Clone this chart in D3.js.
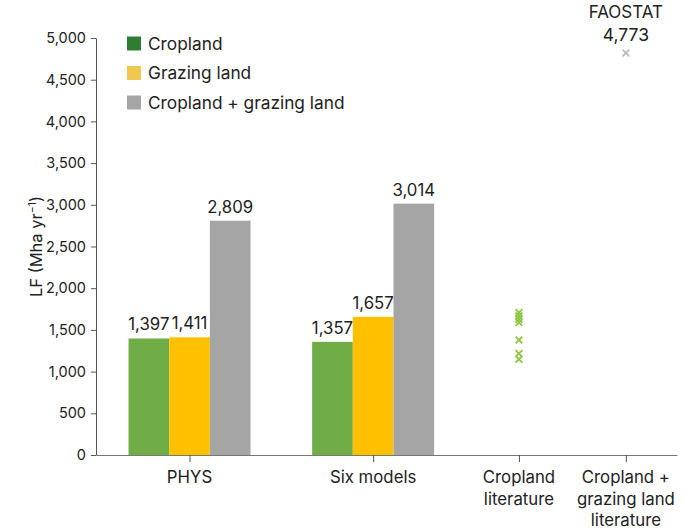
<!DOCTYPE html>
<html><head><meta charset="utf-8">
<script src="https://cdn.jsdelivr.net/npm/d3@7"></script>
<style>
html,body{margin:0;padding:0;background:#fff;}
text{font-family:Inter,"Noto Sans",sans-serif;fill:#222;}
</style></head>
<body><svg id="c" width="685" height="531"></svg>
<script>
// ---- data ----
const categories = ["PHYS", "Six models", "Cropland literature", "Cropland + grazing land literature"];
const categoryLines = [["PHYS"], ["Six models"], ["Cropland", "literature"], ["Cropland +", "grazing land", "literature"]];
const categoryPos = [16.1, 47.7, 72.8, 91.2]; // position along x axis (% of axis length)
const seriesNames = ["Cropland", "Grazing land", "Cropland + grazing land"];
const barCategories = ["PHYS", "Six models"];
const cropland = [1397, 1357];
const grazing = [1411, 1657];
const combined = [2809, 3014];
const croplandLiterature = [1660, 1620, 1580, 1540, 1330, 1170, 1100];
const faostat = 4773;
const yTicks = [0, 500, 1000, 1500, 2000, 2500, 3000, 3500, 4000, 4500, 5000];

const barColors = ["#70AD47", "#FFC000", "#A5A5A5"];
const legendColors = ["#2E7D32", "#F0C850", "#A5A5A5"];

// ---- layout ----
const svg = d3.select("#c");
const L = 96, R = 677, T = 38, B = 455;
const x = d3.scaleLinear().domain([0, 100]).range([L, R]);
const y = d3.scaleLinear().domain([0, 5000]).range([B, T]);
const barW = x(7) - x(0);
const fmt = d3.format(",");

// y axis
const yAxis = svg.append("g").attr("transform", `translate(${L},0)`)
  .call(d3.axisLeft(y).tickValues(yTicks).tickFormat(fmt).tickSize(5).tickSizeOuter(0));
yAxis.select(".domain").attr("stroke", "#555");
yAxis.selectAll(".tick line").attr("stroke", "#555");
yAxis.selectAll(".tick text").attr("font-size", 14.5).attr("fill", "#222")
  .attr("font-family", "Inter, 'Noto Sans', sans-serif").attr("x", -10);

// x axis
const xAxis = svg.append("g").attr("transform", `translate(0,${B})`)
  .call(d3.axisBottom(x).tickValues(categoryPos).tickFormat("").tickSize(7).tickSizeOuter(0));
xAxis.select(".domain").attr("stroke", "#777");
xAxis.selectAll(".tick line").attr("stroke", "#555");

// x labels
categoryLines.forEach((lines, i) => {
  const t = svg.append("text").attr("x", x(categoryPos[i])).attr("y", 483)
    .attr("text-anchor", "middle").attr("font-size", 16.8);
  lines.forEach((ln, j) => t.append("tspan").attr("x", x(categoryPos[i])).attr("dy", j === 0 ? 0 : 21.5).text(ln));
});

// y label
svg.append("text").attr("transform", `translate(42,${(T + B) / 2}) rotate(-90)`)
  .attr("text-anchor", "middle").attr("font-size", 16.5)
  .html('LF (Mha yr<tspan dy="-6" font-size="10.5">−1</tspan><tspan dy="6">)</tspan>');

// bars
const seriesValues = [cropland, grazing, combined];
barCategories.forEach((cat, ci) => {
  const cx = x(categoryPos[categories.indexOf(cat)]);
  seriesValues.forEach((vals, si) => {
    const x0 = cx + (si - 1.5) * barW;
    svg.append("rect").attr("x", x0).attr("y", y(vals[ci])).attr("width", barW)
      .attr("height", y(0) - y(vals[ci])).attr("fill", barColors[si]);
  });
  seriesValues.forEach((vals, si) => {
    const x0 = cx + (si - 1.5) * barW;
    svg.append("text").attr("x", x0 + barW / 2).attr("y", y(vals[ci]) - 8)
      .attr("text-anchor", "middle").attr("font-size", 16.8).text(fmt(vals[ci]));
  });
});

// markers
function cross(g, cx, cy, color) {
  const s = 3.4;
  g.append("path").attr("d", `M${cx - s},${cy - s}L${cx + s},${cy + s}M${cx - s},${cy + s}L${cx + s},${cy - s}`)
    .attr("stroke", color).attr("stroke-width", 1.8).attr("fill", "none");
}
const mk = svg.append("g");
const litX = x(categoryPos[2]);
croplandLiterature.forEach(v => cross(mk, litX, y(v) - 4, "#8DC63F"));
const faoX = x(categoryPos[3]);
cross(mk, faoX, y(faostat) - 4, "#BBBBBB");
svg.append("text").attr("x", faoX).attr("y", 41).attr("text-anchor", "middle").attr("font-size", 17.5).text(fmt(faostat));
svg.append("text").attr("x", faoX).attr("y", 18).attr("text-anchor", "middle").attr("font-size", 17).text("FAOSTAT");

// legend
seriesNames.forEach((n, i) => {
  const cy = 43.5 + i * 29.5;
  svg.append("rect").attr("x", 127).attr("y", cy - 7).attr("width", 14).attr("height", 14).attr("fill", legendColors[i]);
  svg.append("text").attr("x", 148).attr("y", cy + 6).attr("font-size", 17.3).text(n);
});
</script></body></html>
